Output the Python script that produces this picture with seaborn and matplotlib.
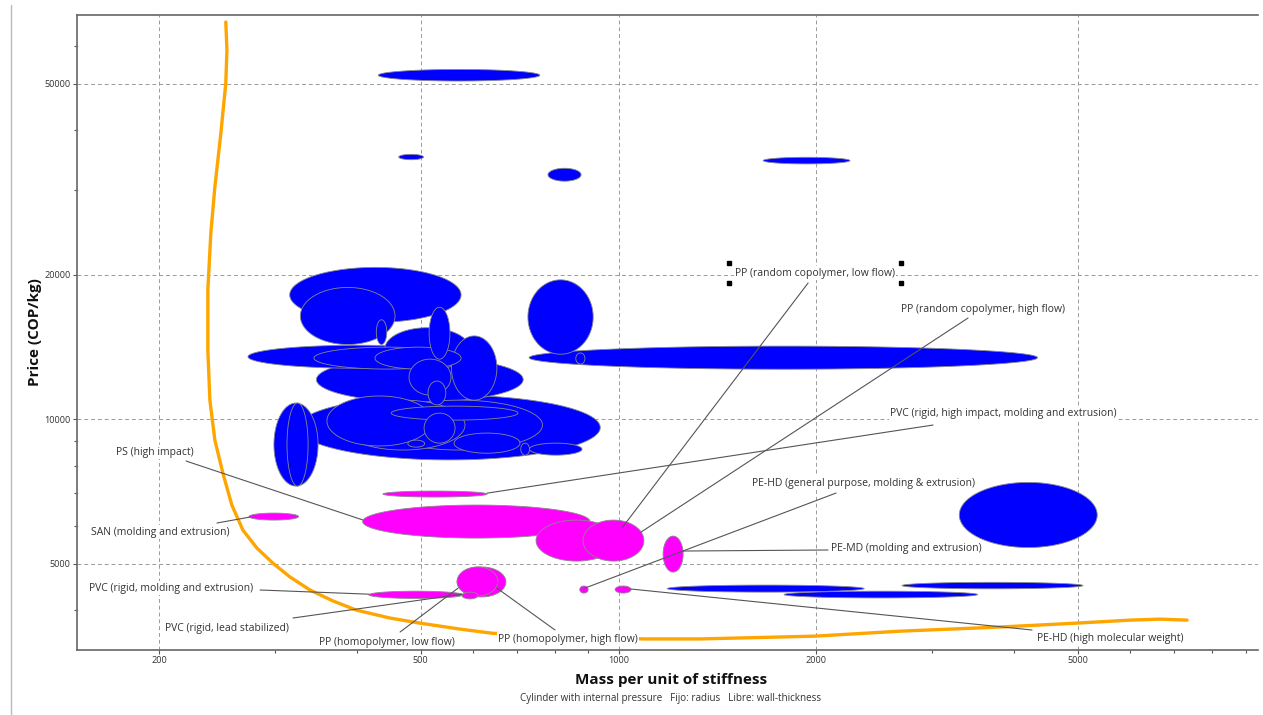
import numpy as np
import pandas as pd
import matplotlib
matplotlib.use("Agg")
import matplotlib.pyplot as plt
from matplotlib.ticker import FixedLocator, LogLocator, NullFormatter, FuncFormatter
from matplotlib.lines import Line2D
import seaborn as sns

# --- data (x: mass per unit stiffness, y: price COP/kg) ---
# blue material bubbles (min/max ranges)
blue_x_lo = [431, 463, 781, 1660, 316, 328, 428, 273, 344, 426, 441, 515, 347, 557, 480, 513,
             325, 360, 378, 428, 451, 506, 562, 478, 710, 732, 299, 313, 728, 731, 861,
             3300, 1186, 1786, 2700]
blue_x_hi = [759, 505, 877, 2250, 576, 457, 444, 590, 574, 576, 594, 554, 716, 653, 556, 546,
             938, 520, 584, 766, 703, 564, 708, 507, 732, 880, 349, 337, 915, 4340, 889,
             5350, 2365, 3520, 5090]
blue_y_lo = [50600, 34700, 31300, 34000, 15900, 14300, 14300, 12760, 12710, 12710, 12650, 13330,
             10850, 10950, 11220, 10700, 8220, 8790, 8620, 8620, 9950, 8910, 8490, 8740, 8410,
             8410, 7250, 7250, 13650, 12700, 13020, 5400, 4360, 4240, 4430]
blue_y_hi = [53500, 35600, 33300, 35100, 20700, 18800, 16100, 14250, 14120, 14120, 15500, 17100,
             13460, 14900, 13330, 12000, 11220, 11170, 10950, 10950, 10640, 10290, 9350, 9040,
             8910, 8910, 10800, 10800, 19500, 14190, 13730, 7380, 4510, 4380, 4570]

# magenta (labelled) material bubbles
pink_x_lo = [438, 408, 749, 883, 1169, 568, 568, 578, 417, 873, 988, 274]
pink_x_hi = [631, 905, 995, 1093, 1254, 674, 655, 611, 580, 899, 1045, 326]
pink_y_lo = [6880, 5650, 5060, 5060, 4800, 4260, 4280, 4220, 4230, 4340, 4340, 6160]
pink_y_hi = [7080, 6620, 6160, 6160, 5705, 4920, 4920, 4360, 4380, 4490, 4490, 6370]

# selection line (orange)
curve_x = [252.6, 253.6, 252.6, 248.3, 243.1, 239.7, 237.2, 237.2, 238.9, 243.1, 250, 258,
           268.2, 281.7, 297.9, 316.2, 339.2, 367.6, 399, 449, 499, 574, 642, 815, 1097,
           1330, 1990, 2680, 3808, 4970, 6003, 6670, 7330]
curve_y = [67150, 58700, 50100, 39450, 30430, 24410, 18570, 13930, 10950, 9040, 7720, 6620,
           5870, 5385, 5010, 4690, 4405, 4180, 4000, 3850, 3757, 3651, 3580, 3514, 3483,
           3483, 3530, 3615, 3688, 3757, 3812, 3830, 3812]

# labels and the point each leader line points to
label_names = ["PP (random copolymer, low flow)", "PP (random copolymer, high flow)",
               "PVC (rigid, high impact, molding and extrusion)", "PS (high impact)",
               "SAN (molding and extrusion)", "PE-HD (general purpose, molding & extrusion)",
               "PE-MD (molding and extrusion)", "PVC (rigid, molding and extrusion)",
               "PVC (rigid, lead stabilized)", "PP (homopolymer, low flow)",
               "PP (homopolymer, high flow)", "PE-HD (high molecular weight)"]
label_x = [1012, 1082, 631, 408, 275, 889, 1253, 417, 578, 570, 653, 1045]
label_y = [5930, 5815, 7010, 6165, 6250, 4445, 5310, 4317, 4317, 4445, 4445, 4425]

x_ticks = [200, 500, 1000, 2000, 5000]
y_ticks = [5000, 10000, 20000, 50000]

# layout (axes fraction): text centre and leader-line start
text_pos = [(0.6249, 0.5937), (0.7672, 0.5370), (0.7841, 0.3717), (0.0660, 0.3118),
            (0.0703, 0.1858), (0.6655, 0.2630), (0.7019, 0.1591), (0.0796, 0.0976),
            (0.1270, 0.0346), (0.2625, 0.0126), (0.4157, 0.0173), (0.8747, 0.0189)]
line_start = [(0.6190, 0.5780), (0.7544, 0.5228), (0.7248, 0.3543), (0.0923, 0.2976),
              (0.1185, 0.2000), (0.6427, 0.2472), (0.6359, 0.1575), (0.1550, 0.0945),
              (0.1829, 0.0504), (0.2735, 0.0283), (0.4047, 0.0315), (0.8086, 0.0315)]

sns.set_style("white")
plt.rcParams['font.family'] = ['Open Sans', 'DejaVu Sans']

fig = plt.figure(figsize=(12.63, 7.15), dpi=100)
ax = fig.add_axes([0.0610, 0.0909, 0.9351, 0.8881])
ax.set_xscale("log")
ax.set_yscale("log")
ax.set_xlim(150, 9400)
ax.set_ylim(3303, 69450)

bubbles = pd.DataFrame({
    "x_lo": blue_x_lo + pink_x_lo, "x_hi": blue_x_hi + pink_x_hi,
    "y_lo": blue_y_lo + pink_y_lo, "y_hi": blue_y_hi + pink_y_hi,
    "color": ["#0000FF"] * len(blue_x_lo) + ["#FF00FF"] * len(pink_x_lo),
})
bubbles["area"] = (np.log10(bubbles.x_hi / bubbles.x_lo) *
                   np.log10(bubbles.y_hi / bubbles.y_lo))
t = np.linspace(0, 2 * np.pi, 240)
for i, (_, b) in enumerate(bubbles.sort_values("area", ascending=False).iterrows()):
    cx = (np.log10(b.x_lo) + np.log10(b.x_hi)) / 2
    rx = (np.log10(b.x_hi) - np.log10(b.x_lo)) / 2
    cy = (np.log10(b.y_lo) + np.log10(b.y_hi)) / 2
    ry = (np.log10(b.y_hi) - np.log10(b.y_lo)) / 2
    ax.fill(10 ** (cx + rx * np.cos(t)), 10 ** (cy + ry * np.sin(t)),
            facecolor=b.color, edgecolor="#8a8a8a", lw=0.6, zorder=2 + i * 0.01)

sns.lineplot(x=curve_x, y=curve_y, sort=False, estimator=None, color="#FFA500",
             lw=2.4, ax=ax, zorder=3)

for name, tx, ty, tp, ls in zip(label_names, label_x, label_y, text_pos, line_start):
    ax.annotate("", xy=(tx, ty), xycoords="data", xytext=ls, textcoords="axes fraction",
                arrowprops=dict(arrowstyle="-", color="#555555", lw=0.8,
                                shrinkA=0, shrinkB=0), zorder=5)
    ax.text(tp[0], tp[1], name, transform=ax.transAxes, ha="center", va="center",
            fontsize=7.5, color="#333333", zorder=6,
            bbox=dict(boxstyle="square,pad=0.12", fc="white", ec="none"))

# selection handles around the first label
hx = [0.5521, 0.5521, 0.6977, 0.6977]
hy = [0.6094, 0.5780, 0.6094, 0.5780]
ax.plot(hx, hy, ls="none", marker="s", ms=2.6, color="black", transform=ax.transAxes,
        zorder=7, clip_on=False)

ax.xaxis.set_major_locator(FixedLocator(x_ticks))
ax.yaxis.set_major_locator(FixedLocator(y_ticks))
ax.xaxis.set_minor_locator(LogLocator(base=10, subs=np.arange(1, 10)))
ax.yaxis.set_minor_locator(LogLocator(base=10, subs=np.arange(1, 10)))
ax.xaxis.set_major_formatter(FuncFormatter(lambda v, p: f"{v:g}"))
ax.yaxis.set_major_formatter(FuncFormatter(lambda v, p: f"{v:.0f}"))
ax.xaxis.set_minor_formatter(NullFormatter())
ax.yaxis.set_minor_formatter(NullFormatter())
ax.tick_params(which="major", direction="out", length=3, width=0.8, color="#555555",
               labelsize=6.6, labelcolor="#333333", pad=1.5, bottom=True, left=True)
ax.tick_params(which="minor", direction="out", length=2, width=0.8, color="#555555",
               bottom=True, left=True)

ax.grid(True, which="major", color="#9a9a9a", lw=0.7, linestyle=(0, (4, 3)), zorder=0)
ax.set_axisbelow(True)
for side in ["left", "bottom", "top"]:
    ax.spines[side].set_color("#666666")
    ax.spines[side].set_linewidth(1.2)
ax.spines["right"].set_visible(False)

fig.text(671 / 1263, 1 - 680 / 715, "Mass per unit of stiffness", ha="center", va="center",
         fontsize=11, fontweight="bold", color="#111111")
fig.text(671 / 1263, 1 - 699 / 715,
         "Cylinder with internal pressure   Fijo: radius   Libre: wall-thickness",
         ha="center", va="center", fontsize=7.1, color="#333333")
fig.text(35 / 1263, 1 - 332 / 715, "Price (COP/kg)", ha="center", va="center", rotation=90,
         fontsize=11, fontweight="bold", color="#111111")
fig.add_artist(Line2D([11 / 1263, 11 / 1263], [0, 1 - 5 / 715], color="#bbbbbb", lw=1))

fig.savefig("out.png", dpi=100)
